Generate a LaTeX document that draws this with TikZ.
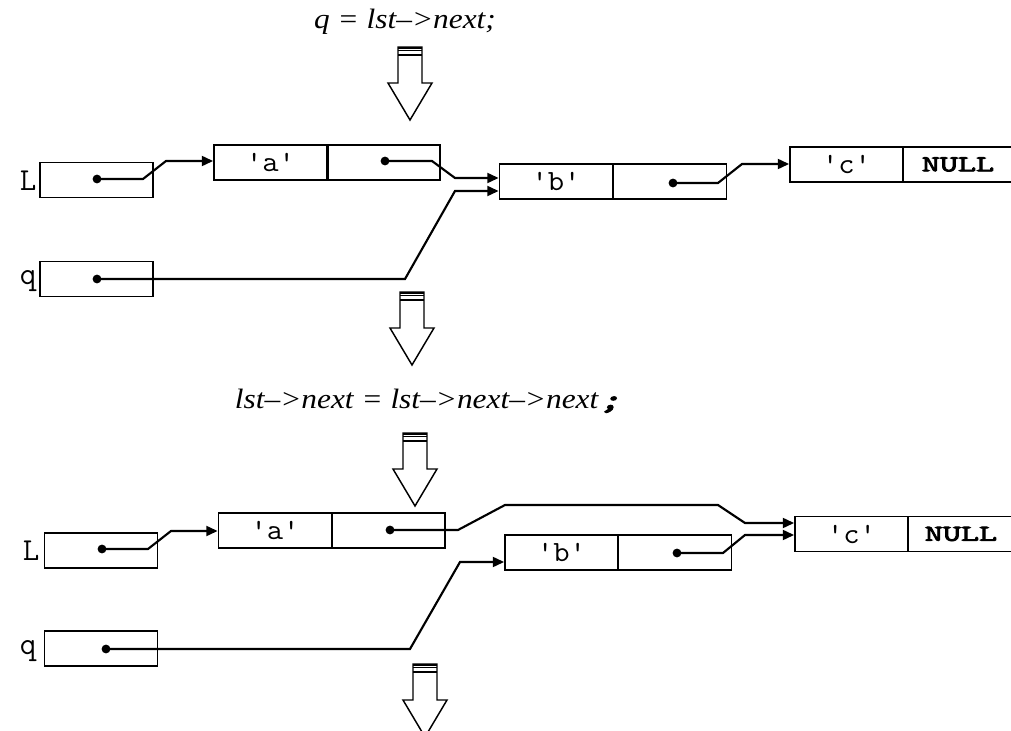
\documentclass[tikz,border=0pt]{standalone}
\usepackage{fontspec}
\setmainfont{Liberation Serif}
\newfontfamily\stmtfont[FakeStretch=1.12]{Liberation Serif}
\newfontfamily\cellfont[FakeStretch=1.08]{Latin Modern Mono}
\newfontfamily\boldmonofont[FakeStretch=1.55, FakeBold=4]{Latin Modern Mono}
\newfontfamily\varfont{Latin Modern Mono}
\usetikzlibrary{arrows.meta}

\tikzset{
  cell/.style={draw, line width=1.1pt, minimum width=85pt, minimum height=26pt,
    inner sep=0pt, font=\cellfont\fontsize{22}{22}\selectfont},
  nullcell/.style={cell, minimum width=82pt,
    font=\boldmonofont\fontsize{17}{17}\selectfont},
  varlabel/.style={font=\varfont\fontsize{24}{24}\selectfont, inner sep=0pt},
  link/.style={line width=1.6pt, -{Triangle[length=8.5pt,width=7.5pt]}},
  stmt/.style={font=\stmtfont\itshape\fontsize{21}{21}\selectfont, inner sep=0pt},
  blockarrow/.pic={
    \draw[line width=1.1pt, line join=miter]
      (-12,0) -- (-12,36) -- (-22,36) -- (0,73) -- (22,36) -- (12,36) -- (12,0) -- cycle;
    \draw[line width=1.6pt] (-12,0.8) -- (12,0.8);
    \draw[line width=1pt] (-12,3.8) -- (12,3.8);
    \draw[line width=1.1pt] (-12,8) -- (12,8);
  }
}

\begin{document}
\begin{tikzpicture}[x=0.75pt, y=-0.75pt]
\useasboundingbox (0,0) rectangle (1011,731);

% ---------- before: q = lst->next ----------
\node[stmt] (s1) at (405,22) {q = lst–>next;};
\pic at (410,47) {blockarrow};

\node[varlabel] (lL1) at (28,181) {L};
\node[cell] (L1) at (96.5,180) {};
\coordinate (dL1) at (97,179);

\node[cell] (a1) at (270.5,162.5) {'a'};
\node[cell, minimum width=84pt] (ap1) at (384,162.5) {};
\coordinate (da1) at (385,161);

\node[cell] (b1) at (556,181.5) {'b'};
\node[cell] (bp1) at (670,181.5) {};
\coordinate (db1) at (673,183);

\node[cell] (c1) at (846.5,164.5) {'c'};
\node[nullcell] (n1) at (958,164.5) {NULL};

\node[varlabel] (lq1) at (28,281) {q};
\node[cell] (q1) at (96.5,279) {};
\coordinate (dq1) at (97,279);

\foreach \d in {dL1,da1,db1,dq1} \fill (\d) circle[radius=3.3pt];

\draw[link] (dL1) -- (143,179) -- (166,161) -- (a1.west |- 0,161);
\draw[link] (da1) -- (432,161) -- (455,178) -- (b1.west |- 0,178);
\draw[link] (dq1) -- (405,279) -- (455,191) -- (b1.west |- 0,191);
\draw[link] (db1) -- (718,183) -- (742,164) -- (c1.west |- 0,164);

\pic at (412,292) {blockarrow};

% ---------- after: lst->next = lst->next->next ----------
\node[stmt] (s2) at (428,401) {lst–>next = lst–>next–>next{\boldmonofont;}};
\pic at (415,433) {blockarrow};

\node[varlabel] (lL2) at (31,551) {L};
\node[cell] (L2) at (101,550.5) {};
\coordinate (dL2) at (102,549);

\node[cell] (a2) at (275,530.5) {'a'};
\node[cell] (ap2) at (388.5,530.5) {};
\coordinate (da2) at (390,530);

\node[cell] (b2) at (561.5,552.5) {'b'};
\node[cell] (bp2) at (675,552.5) {};
\coordinate (db2) at (677,553);

\node[cell] (c2) at (851.5,534) {'c'};
\node[nullcell, minimum width=79pt] (n2) at (961,534) {NULL};

\node[varlabel] (lq2) at (28,651) {q};
\node[cell] (q2) at (101,648.5) {};
\coordinate (dq2) at (106,649);

\foreach \d in {dL2,da2,db2,dq2} \fill (\d) circle[radius=3.3pt];

\draw[link] (dL2) -- (148,549) -- (171,531) -- (a2.west |- 0,531);
\draw[link] (da2) -- (458,530) -- (505,505) -- (718,505) -- (745,523) -- (c2.west |- 0,523);
\draw[link] (db2) -- (723,553) -- (745,535) -- (c2.west |- 0,535);
\draw[link] (dq2) -- (410,649) -- (460,562) -- (b2.west |- 0,562);

\pic at (425,664) {blockarrow};
\end{tikzpicture}
\end{document}
